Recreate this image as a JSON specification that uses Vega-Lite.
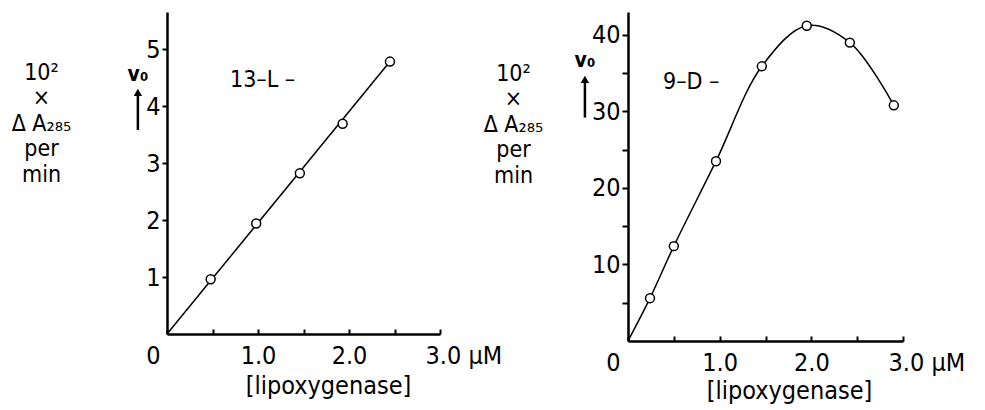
{
  "$schema": "https://vega.github.io/schema/vega-lite/v6.json",
  "padding": {"left": 11, "top": 12, "right": 5, "bottom": 5},
  "background": "white",
  "bounds": "flush",
  "spacing": 188,
  "config": {
    "view": {"stroke": null},
    "font": "DejaVu Sans Condensed, DejaVu Sans",
    "text": {"font": "DejaVu Sans Condensed, DejaVu Sans", "fontSize": 25, "color": "black"},
    "axis": {
      "domainColor": "black", "domainWidth": 2.5, "tickColor": "black", "tickWidth": 2,
      "labelFont": "DejaVu Sans Condensed, DejaVu Sans",
      "titleFont": "DejaVu Sans Condensed, DejaVu Sans",
      "labelFontSize": 25, "titleFontSize": 23, "labelColor": "black", "titleColor": "black",
      "titleFontWeight": "normal", "grid": false
    }
  },
  "datasets": {
    "leftPts": [{"c":0.48,"v":0.96},{"c":0.98,"v":1.94},{"c":1.46,"v":2.82},{"c":1.93,"v":3.69},{"c":2.45,"v":4.78}],
    "leftFit": [{"c":0,"v":0},{"c":2.45,"v":4.78}],
    "rightPts": [{"c":0.24,"v":5.6},{"c":0.5,"v":12.4},{"c":0.96,"v":23.5},{"c":1.46,"v":35.9},{"c":1.95,"v":41.2},{"c":2.42,"v":39.0},{"c":2.9,"v":30.8}],
    "rightCurve": [{"c":0,"v":0},{"c":0.24,"v":5.6},{"c":0.5,"v":12.4},{"c":0.96,"v":23.5},{"c":1.46,"v":35.9},{"c":1.95,"v":41.2},{"c":2.42,"v":39.0},{"c":2.9,"v":30.8}],
    "one": [{"k": 1}]
  },
  "hconcat": [
    {
      "width": 273, "height": 322,
      "layer": [
        {
          "data": {"name": "leftFit"},
          "mark": {"type": "line", "color": "black", "strokeWidth": 1.5},
          "encoding": {
            "x": {"field": "c", "type": "quantitative", "scale": {"domain": [0, 3], "nice": false},
              "axis": {
                "values": [0, 0.5, 1, 1.5, 2, 2.5, 3], "tickSize": -5, "labelPadding": 14,
                "labelExpr": "datum.value==0?'0':datum.value==1?'1.0':datum.value==2?'2.0':datum.value==3?'3.0  µM':''",
                "labelAlign": {"condition": [{"test": "datum.value==0", "value": "right"}, {"test": "datum.value==3", "value": "left"}], "value": "center"},
                "labelOffset": {"condition": [{"test": "datum.value==0", "value": -7}, {"test": "datum.value==3", "value": -15}], "value": 0},
                "title": "[lipoxygenase]", "titleFontSize": 25, "titleX": 161, "titleY": 59, "titleBaseline": "alphabetic", "titleAlign": "center"
              }},
            "y": {"field": "v", "type": "quantitative", "scale": {"domain": [0, 5.65], "nice": false},
              "axis": {
                "values": [1, 2, 3, 4, 5], "format": "d", "tickSize": 5, "labelPadding": 2,
                "title": ["10²", "×", "Δ A₂₈₅", "per", "min"], "titleAngle": 0, "titleAlign": "center",
                "titleBaseline": "top", "titleX": -126, "titleY": 49, "titleLineHeight": 25.5
              }}
          }
        },
        {
          "data": {"name": "leftPts"},
          "mark": {"type": "point", "shape": "circle", "filled": true, "fill": "white", "stroke": "black", "strokeWidth": 1.5, "size": 80, "opacity": 1},
          "encoding": {"x": {"field": "c", "type": "quantitative"}, "y": {"field": "v", "type": "quantitative"}}
        },
        {
          "data": {"name": "one"},
          "mark": {"type": "text", "text": "13–L –", "align": "center", "baseline": "middle", "fontSize": 23},
          "encoding": {"x": {"datum": 1.05, "type": "quantitative"}, "y": {"datum": 4.46, "type": "quantitative"}}
        },
        {
          "data": {"name": "one"},
          "mark": {"type": "text", "text": "v₀", "align": "center", "baseline": "middle", "fontSize": 21, "fontWeight": "bold"},
          "encoding": {"x": {"datum": -0.32, "type": "quantitative"}, "y": {"datum": 4.55, "type": "quantitative"}}
        },
        {
          "data": {"name": "one"},
          "mark": {"type": "rule", "color": "black", "strokeWidth": 2.5},
          "encoding": {"x": {"datum": -0.32, "type": "quantitative"}, "y": {"datum": 3.58, "type": "quantitative"}, "y2": {"datum": 4.2}}
        },
        {
          "data": {"name": "one"},
          "mark": {"type": "point", "shape": "triangle-up", "filled": true, "color": "black", "size": 70, "opacity": 1},
          "encoding": {"x": {"datum": -0.32, "type": "quantitative"}, "y": {"datum": 4.24, "type": "quantitative"}}
        }
      ]
    },
    {
      "width": 275, "height": 329,
      "layer": [
        {
          "data": {"name": "rightCurve"},
          "mark": {"type": "line", "color": "black", "strokeWidth": 1.5, "interpolate": "catmull-rom"},
          "encoding": {
            "x": {"field": "c", "type": "quantitative", "scale": {"domain": [0, 3], "nice": false},
              "axis": {
                "values": [0, 0.5, 1, 1.5, 2, 2.5, 3], "tickSize": -5, "labelPadding": 14,
                "labelExpr": "datum.value==0?'0':datum.value==1?'1.0':datum.value==2?'2.0':datum.value==3?'3.0  µM':''",
                "labelAlign": {"condition": [{"test": "datum.value==0", "value": "right"}, {"test": "datum.value==3", "value": "left"}], "value": "center"},
                "labelOffset": {"condition": [{"test": "datum.value==0", "value": -8}, {"test": "datum.value==3", "value": -15}], "value": 0},
                "title": "[lipoxygenase]", "titleFontSize": 25, "titleX": 161, "titleY": 57, "titleBaseline": "alphabetic", "titleAlign": "center"
              }},
            "y": {"field": "v", "type": "quantitative", "scale": {"domain": [0, 43.0], "nice": false},
              "axis": {
                "values": [5, 10, 15, 20, 25, 30, 35, 40],
                "tickSize": 6,
                "labelPadding": 2,
                "labelExpr": "datum.value % 10 == 0 ? datum.label : ''",
                "title": ["10²", "×", "Δ A₂₈₅", "per", "min"], "titleAngle": 0, "titleAlign": "center",
                "titleBaseline": "top", "titleX": -115, "titleY": 50, "titleLineHeight": 25.5
              }}
          }
        },
        {
          "data": {"name": "rightPts"},
          "mark": {"type": "point", "shape": "circle", "filled": true, "fill": "white", "stroke": "black", "strokeWidth": 1.5, "size": 80, "opacity": 1},
          "encoding": {"x": {"field": "c", "type": "quantitative"}, "y": {"field": "v", "type": "quantitative"}}
        },
        {
          "data": {"name": "one"},
          "mark": {"type": "text", "text": "9–D –", "align": "center", "baseline": "middle", "fontSize": 23},
          "encoding": {"x": {"datum": 0.69, "type": "quantitative"}, "y": {"datum": 33.9, "type": "quantitative"}}
        },
        {
          "data": {"name": "one"},
          "mark": {"type": "text", "text": "v₀", "align": "center", "baseline": "middle", "fontSize": 21, "fontWeight": "bold"},
          "encoding": {"x": {"datum": -0.47, "type": "quantitative"}, "y": {"datum": 36.6, "type": "quantitative"}}
        },
        {
          "data": {"name": "one"},
          "mark": {"type": "rule", "color": "black", "strokeWidth": 2.5},
          "encoding": {"x": {"datum": -0.47, "type": "quantitative"}, "y": {"datum": 29.2, "type": "quantitative"}, "y2": {"datum": 33.9}}
        },
        {
          "data": {"name": "one"},
          "mark": {"type": "point", "shape": "triangle-up", "filled": true, "color": "black", "size": 70, "opacity": 1},
          "encoding": {"x": {"datum": -0.47, "type": "quantitative"}, "y": {"datum": 34.2, "type": "quantitative"}}
        }
      ]
    }
  ]
}
